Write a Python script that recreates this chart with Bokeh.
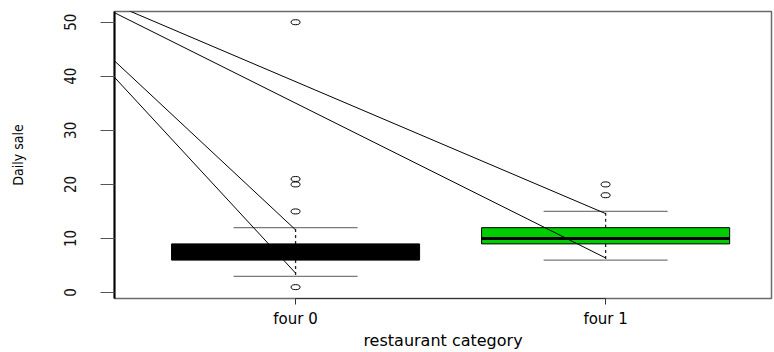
from bokeh.plotting import figure
from bokeh.models import Range1d, FixedTicker
from bokeh.embed import file_html
from bokeh.resources import INLINE

# Daily sale by restaurant category (box summaries)
categories = ["four 0", "four 1"]
positions = [1, 2]
q1 = [6, 9]
medians = [7, 10]
q3 = [9, 12]
whisker_low = [3, 6]
whisker_high = [12, 15]
box_colors = ["black", "#00CD00"]

# notch limits, drawn as rays from a common apex
notch_low = [3.6, 6.4]
notch_high = [11.6, 14.6]
notch_apex_x = 0.058
notch_apex_y = 62.0

# outlying observations
outlier_pos = [1, 1, 1, 1, 1, 2, 2]
outlier_val = [50, 21, 20, 15, 1, 20, 18]

y_ticks = [0, 10, 20, 30, 40, 50]

BOX_HALF = 0.4
STAPLE_HALF = 0.2

p = figure(width=774, height=352, output_backend="svg", toolbar_location=None,
           x_range=Range1d(0.416, 2.535), y_range=Range1d(-1.1, 51.98),
           min_border_left=114, min_border_right=3, min_border_top=11,
           min_border_bottom=54)

p.xgrid.visible = False
p.ygrid.visible = False
p.outline_line_color = "#6a6a6a"
p.outline_line_width = 1.5

narrow = "'Liberation Sans Narrow', 'DejaVu Sans Condensed', 'Liberation Sans', sans-serif"
wide = "'DejaVu Sans', sans-serif"

# x axis: one tick per category, line only between first and last tick
xa = p.xaxis[0]
xa.ticker = FixedTicker(ticks=positions)
xa.major_label_overrides = {pos: lab for pos, lab in zip(positions, categories)}
xa.bounds = (positions[0], positions[-1])
xa.major_tick_in = 0
xa.major_tick_out = 6
xa.minor_tick_line_color = None
xa.axis_line_color = "#333333"
xa.major_tick_line_color = "#333333"
xa.major_label_text_font = wide
xa.major_label_text_font_size = "15px"
xa.major_label_text_color = "black"
xa.major_label_standoff = 5
xa.axis_label = "restaurant category"
xa.axis_label_text_font = wide
xa.axis_label_text_font_size = "16px"
xa.axis_label_text_font_style = "normal"
xa.axis_label_text_color = "black"
xa.axis_label_standoff = 0

# y axis
ya = p.yaxis[0]
ya.ticker = FixedTicker(ticks=y_ticks)
ya.major_label_orientation = "vertical"
ya.major_tick_in = 0
ya.major_tick_out = 14
ya.minor_tick_line_color = None
ya.axis_line_color = "black"
ya.axis_line_width = 2
ya.major_tick_line_color = "#555555"
ya.major_label_text_font = narrow
ya.major_label_text_font_size = "15px"
ya.major_label_text_color = "#111111"
ya.major_label_standoff = 24
ya.axis_label = "Daily sale"
ya.axis_label_text_font = narrow
ya.axis_label_text_font_size = "14px"
ya.axis_label_text_font_style = "normal"
ya.axis_label_text_color = "black"
ya.axis_label_standoff = 36

# whiskers (dashed) and staples
p.segment(x0=positions, y0=q3, x1=positions, y1=whisker_high,
          line_color="#222222", line_width=1.3, line_dash="3 3")
p.segment(x0=positions, y0=q1, x1=positions, y1=whisker_low,
          line_color="#222222", line_width=1.3, line_dash="3 3")
p.segment(x0=[x - STAPLE_HALF for x in positions], y0=whisker_high,
          x1=[x + STAPLE_HALF for x in positions], y1=whisker_high,
          line_color="#7a7a7a", line_width=1.3)
p.segment(x0=[x - STAPLE_HALF for x in positions], y0=whisker_low,
          x1=[x + STAPLE_HALF for x in positions], y1=whisker_low,
          line_color="#7a7a7a", line_width=1.3)

# boxes and medians
p.quad(left=[x - BOX_HALF for x in positions], right=[x + BOX_HALF for x in positions],
       bottom=q1, top=q3, fill_color=box_colors, line_color="black", line_width=1)
p.segment(x0=[x - BOX_HALF for x in positions], y0=medians,
          x1=[x + BOX_HALF for x in positions], y1=medians,
          line_color="black", line_width=3)

# notch rays
n = len(positions)
p.segment(x0=[notch_apex_x] * n, y0=[notch_apex_y] * n, x1=positions, y1=notch_low,
          line_color="black", line_width=1)
p.segment(x0=[notch_apex_x] * n, y0=[notch_apex_y] * n, x1=positions, y1=notch_high,
          line_color="black", line_width=1)

# outliers
p.ellipse(x=outlier_pos, y=outlier_val, width=9, height=5,
          width_units="screen", height_units="screen",
          fill_color=None, line_color="black", line_width=1)

open("out.html", "w").write(file_html(p, INLINE))
